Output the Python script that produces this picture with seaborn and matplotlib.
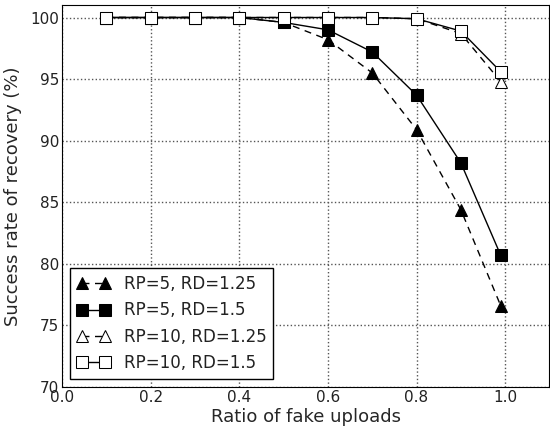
import numpy as np
import pandas as pd
import matplotlib
matplotlib.use("Agg")
import matplotlib.pyplot as plt
import seaborn as sns

ratio = [0.1, 0.2, 0.3, 0.4, 0.5, 0.6, 0.7, 0.8, 0.9, 0.99]
rp5_rd125 = [100, 100, 100, 100, 99.6, 98.2, 95.5, 90.9, 84.4, 76.6]
rp5_rd15 = [100, 100, 100, 100, 99.6, 99.0, 97.2, 93.7, 88.2, 80.7]
rp10_rd125 = [100, 100, 100, 100, 100, 100, 100, 99.9, 98.7, 94.8]
rp10_rd15 = [100, 100, 100, 100, 100, 100, 100, 99.9, 98.9, 95.6]
labels = ["RP=5, RD=1.25", "RP=5, RD=1.5", "RP=10, RD=1.25", "RP=10, RD=1.5"]

sns.set_style("white")
plt.rcParams['font.family'] = ['DejaVu Sans']
plt.rcParams['text.color'] = '#222222'

fig, ax = plt.subplots(figsize=(5.5, 4.32), dpi=100)
fig.subplots_adjust(left=0.113, right=0.999, top=0.988, bottom=0.104)

styles = [
    (rp5_rd125, "^", "black", (0, (5, 4))),
    (rp5_rd15, "s", "black", "-"),
    (rp10_rd125, "^", "white", (0, (5, 4))),
    (rp10_rd15, "s", "white", "-"),
]
for (vals, mk, fc, ls), lab in zip(styles, labels):
    df = pd.DataFrame({"ratio": ratio, "rate": vals})
    sns.lineplot(data=df, x="ratio", y="rate", ax=ax, marker=mk, color="black",
                 markerfacecolor=fc, markeredgecolor="black", markersize=8.5,
                 linestyle=ls, linewidth=1, label=lab)

ax.set_xlim(0, 1.1)
ax.set_ylim(70, 101)
ax.set_xticks([0.0, 0.2, 0.4, 0.6, 0.8, 1.0])
ax.set_yticks([70, 75, 80, 85, 90, 95, 100])
ax.grid(True, linestyle=":", color="#555555", linewidth=1)
ax.tick_params(labelsize=11, direction="in", length=4, pad=2, labelcolor="#222222")
for s in ax.spines.values():
    s.set_color("black")
ax.set_xlabel("Ratio of fake uploads", fontsize=13, labelpad=2)
ax.set_ylabel("Success rate of recovery (%)", fontsize=13, labelpad=6)
ax.legend(loc="lower left", fontsize=12, numpoints=2, fancybox=False,
          edgecolor="black", framealpha=1, handlelength=2, borderaxespad=0.5,
          labelspacing=0.5)

plt.savefig("out.png", dpi=100)
